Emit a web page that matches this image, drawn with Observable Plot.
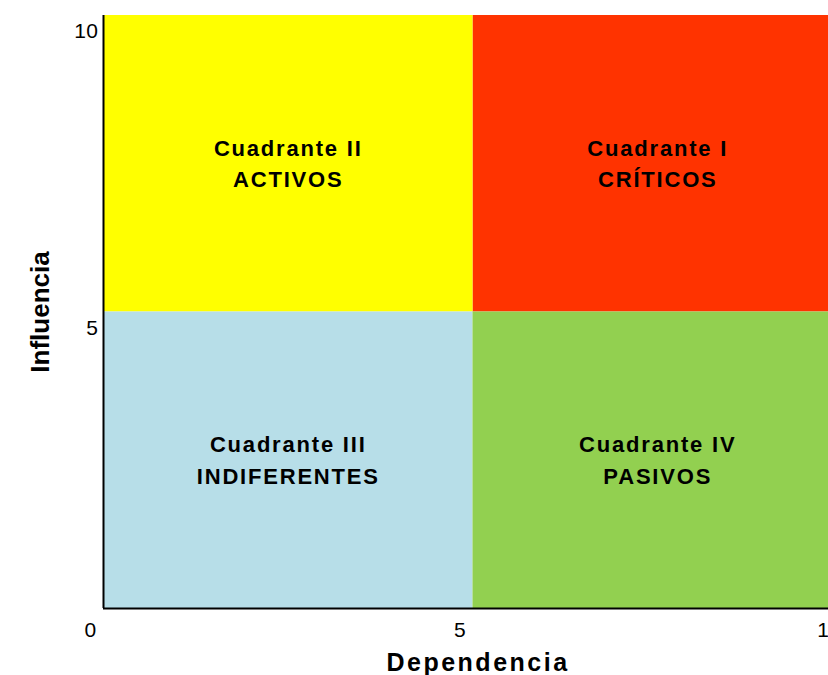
<!DOCTYPE html>
<html>
<head>
<meta charset="utf-8">
<script src="https://cdn.jsdelivr.net/npm/d3@7"></script>
<script src="https://cdn.jsdelivr.net/npm/@observablehq/plot@0.6"></script>
<style>
  html, body { margin: 0; padding: 0; background: #fff; overflow: hidden; }
  #chart svg { overflow: hidden; display: block; }
</style>
</head>
<body>
<div id="chart"></div>
<script>
// ---- data ----
const quadrantTitles = ["Cuadrante I", "Cuadrante II", "Cuadrante III", "Cuadrante IV"];
const quadrantNames  = ["CRÍTICOS", "ACTIVOS", "INDIFERENTES", "PASIVOS"];
const xStart = [5, 0, 0, 5];
const xEnd   = [10, 5, 5, 10];
const yStart = [5, 5, 0, 0];
const yEnd   = [10, 10, 5, 5];
const quadrantColors = ["#FF3300", "#FFFF00", "#B7DEE8", "#92D050"];
const xTicks = [0, 5, 10];
const yTicks = [5, 10];
const xTitle = "Dependencia";
const yTitle = "Influencia";

const quadrants = quadrantTitles.map((t, i) => ({
  title: t, name: quadrantNames[i],
  x1: xStart[i], x2: xEnd[i], y1: yStart[i], y2: yEnd[i],
  color: quadrantColors[i]
}));

const font = "'Liberation Sans', Arial, Helvetica, sans-serif";

const chart = Plot.plot({
  width: 828,
  height: 675,
  marginLeft: 103,
  marginRight: 0,
  marginTop: 15,
  marginBottom: 67,
  style: { fontFamily: font, background: "#fff", color: "#000" },
  x: { domain: [0, 10], range: [103, 842], axis: null },
  y: { domain: [0, 10], axis: null },
  marks: [
    Plot.rect(quadrants, { x1: "x1", x2: "x2", y1: "y1", y2: "y2", fill: "color" }),
    Plot.text(quadrants, {
      x: d => (d.x1 + d.x2) / 2,
      y: d => (d.y1 + d.y2) / 2,
      text: d => d.title + "\n" + d.name,
      fontSize: 22, fontWeight: "bold", lineHeight: 1.45, dy: -2.5,
      fill: "#000"
    }),
    Plot.ruleX([0], { stroke: "#000", strokeWidth: 2 }),
    Plot.ruleY([0], { stroke: "#000", strokeWidth: 2 }),
    Plot.axisX({ ticks: xTicks, tickSize: 0, tickPadding: 14, dx: -13, fontSize: 21, label: null }),
    Plot.axisY({ ticks: yTicks, tickSize: 0, tickPadding: 5, dy: 16, fontSize: 21, label: null }),
    Plot.text([xTitle], { frameAnchor: "bottom", lineAnchor: "middle", textAnchor: "middle", dy: 54, dx: 12, text: d => d, fontSize: 25, fontWeight: "bold", fill: "#000" }),
    Plot.text([yTitle], { frameAnchor: "left", lineAnchor: "middle", textAnchor: "middle", dx: -63, rotate: -90, text: d => d, fontSize: 26, fontWeight: "bold", fill: "#000" })
  ]
});

document.getElementById("chart").appendChild(chart);
const s = d3.select(chart);
s.selectAll('g[font-size="22"] text').style("letter-spacing", "1.8px");
s.selectAll('g[font-size="25"] text').style("letter-spacing", "2.5px");
s.selectAll('g[font-size="21"] text').style("letter-spacing", "0.5px");
</script>
</body>
</html>
